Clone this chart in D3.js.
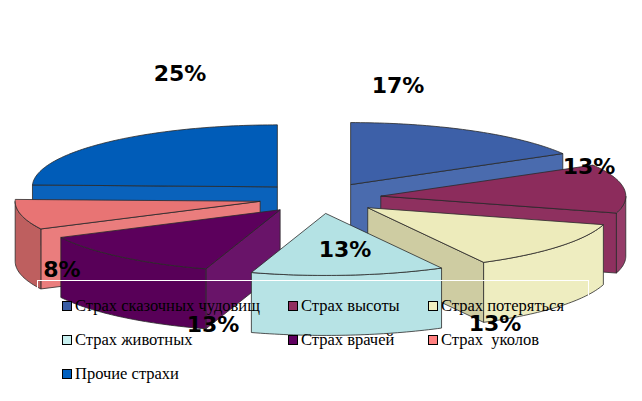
<!DOCTYPE html>
<html>
<head>
<meta charset="utf-8">
<script src="https://cdn.jsdelivr.net/npm/d3@7"></script>
<style>
  body { margin: 0; background: #fff; }
</style>
</head>
<body>
<script>
// data
const categories = ["Страх сказочных чудовищ", "Страх высоты", "Страх потеряться",
  "Страх животных", "Страх врачей", "Страх  уколов", "Прочие страхи"];
const values = [17, 13, 13, 13, 13, 8, 25];
const pctLabels = ["17%", "13%", "13%", "13%", "13%", "8%", "25%"];

// colours
const topColors = ["#3d60a8", "#8c2c5c", "#edebbb", "#b4e2e4", "#5c005c", "#e87474", "#005cb8"];
const legendColors = ["#3a5da5", "#903060", "#f0f0c0", "#c8f0f0", "#600060", "#ff8080", "#0060c0"];
// label nudges relative to the ellipse centre (layout only)
const labelPos = [[78, -105], [269, -24], [175, 133], [25, 59], [-107, 134], [-258, 79], [-140, -117]];

const W = 642, H = 401;
const cx = 320, cy = 198, rx = 245, ry = 62, depth = 60, explode = 0.25;

const svg = d3.select("body").append("svg").attr("width", W).attr("height", H);
svg.append("rect").attr("width", W).attr("height", H).attr("fill", "#fff");

const arcs = d3.pie().sort(null).startAngle(0).endAngle(2 * Math.PI)(values);

// light from lower right, kept subtle
function shade(c, phi) {
  const k = Math.cos(phi - 2 * Math.PI / 3);
  return k < 0
    ? d3.interpolateRgb(c, "#000")(-0.25 * k)
    : d3.interpolateRgb(c, "#fff")(0.08 * k);
}

const line = d3.line();
const gPie = svg.append("g");

// back to front
const order = arcs.map((a, i) => i)
  .sort((a, b) => {
    const ma = (arcs[a].startAngle + arcs[a].endAngle) / 2;
    const mb = (arcs[b].startAngle + arcs[b].endAngle) / 2;
    return -Math.cos(ma) + Math.cos(mb);
  });

order.forEach(i => {
  const a = arcs[i];
  const a0 = a.startAngle, a1 = a.endAngle, mid = (a0 + a1) / 2;
  const ox = cx + explode * rx * Math.sin(mid);
  const oy = cy - explode * ry * Math.cos(mid);
  const rim = (t, dz) => [ox + rx * Math.sin(t), oy - ry * Math.cos(t) + dz];
  const apex = dz => [ox, oy + dz];
  const arcPts = (t0, t1, dz) => {
    const n = Math.max(2, Math.ceil((t1 - t0) / 0.02));
    return d3.range(n + 1).map(k => rim(t0 + (t1 - t0) * k / n, dz));
  };
  const g = gPie.append("g");
  const face = (pts, fill) => g.append("path")
    .attr("d", line(pts) + "Z")
    .attr("fill", fill)
    .attr("stroke", "#2a2a2a").attr("stroke-width", 0.8).attr("stroke-linejoin", "round");

  // radial faces
  if (a0 > Math.PI) {
    face([apex(0), rim(a0, 0), rim(a0, depth), apex(depth)], shade(topColors[i], a0 - Math.PI / 2));
  }
  if (a1 < Math.PI) {
    face([apex(0), rim(a1, 0), rim(a1, depth), apex(depth)], shade(topColors[i], a1 + Math.PI / 2));
  }
  // outer side
  const b0 = Math.max(a0, Math.PI / 2), b1 = Math.min(a1, 3 * Math.PI / 2);
  if (b0 < b1) {
    face(arcPts(b0, b1, 0).concat(arcPts(b0, b1, depth).reverse()), shade(topColors[i], (b0 + b1) / 2));
  }
  // top
  face([apex(0)].concat(arcPts(a0, a1, 0)), topColors[i]);
});

// legend
const legendCols = [62, 288, 428];
const legend = svg.append("g");
legend.append("rect")
  .attr("x", 37.5).attr("y", 280.5).attr("width", 551).attr("height", 112)
  .attr("fill", "none").attr("stroke", "#fff").attr("stroke-width", 1);

const items = legend.selectAll("g.item").data(categories).enter().append("g")
  .attr("transform", (d, i) => `translate(${legendCols[i % 3]},${301 + Math.floor(i / 3) * 34})`);
items.append("rect")
  .attr("x", 0.5).attr("y", 0.5).attr("width", 9).attr("height", 9)
  .attr("fill", (d, i) => legendColors[i]).attr("stroke", "#000").attr("stroke-width", 1);
items.append("text")
  .attr("x", 13).attr("y", 9.5)
  .attr("font-family", "'Liberation Serif', 'Times New Roman', serif")
  .attr("font-size", 16.5).attr("fill", "#000")
  .style("white-space", "pre")
  .text(d => d);

// percentage labels
svg.append("g").selectAll("text").data(pctLabels).enter().append("text")
  .attr("x", (d, i) => cx + labelPos[i][0])
  .attr("y", (d, i) => cy + labelPos[i][1])
  .attr("text-anchor", "middle")
  .attr("font-family", "'DejaVu Sans', Verdana, sans-serif")
  .attr("font-weight", "bold").attr("font-size", 22).attr("fill", "#000")
  .text(d => d);
</script>
</body>
</html>
